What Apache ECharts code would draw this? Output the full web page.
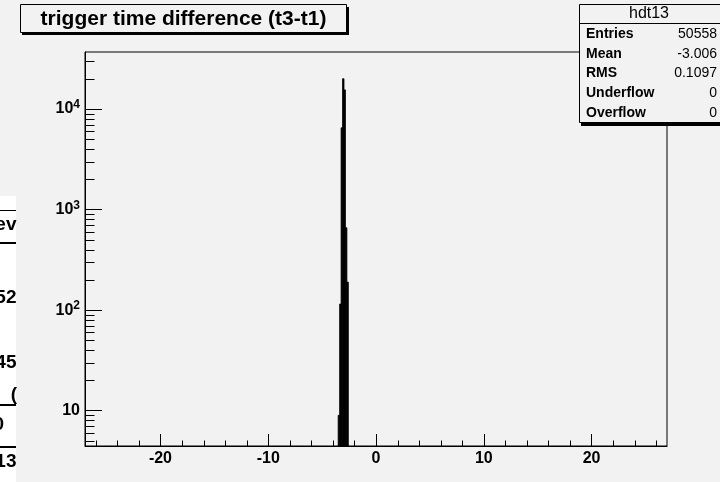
<!DOCTYPE html>
<html>
<head>
<meta charset="utf-8">
<script src="https://cdn.jsdelivr.net/npm/echarts@6/dist/echarts.min.js"></script>
<style>
  html, body { margin: 0; padding: 0; background: #f2f2f2; }
  #main { width: 720px; height: 482px; }
</style>
</head>
<body>
<div id="main"></div>
<script>
// hdt13: 400 bins on [-27, 27]; only the non-empty bins are listed
const binLow = [-3.51, -3.375, -3.24, -3.105, -2.97, -2.835, -2.70];
const binWidth = 0.135;
const counts = [9, 115, 6500, 20000, 15500, 660, 190];

const xRange = [-27, 27];
const yRange = [4.46, 36900];

const titleText = 'trigger time difference (t3-t1)';
const histName = 'hdt13';
const statLabels = ['Entries', 'Mean', 'RMS', 'Underflow', 'Overflow'];
const statValues = ['50558', '-3.006', '0.1097', '0', '0'];

// bits of the canvas window that sits behind, cut off at the left edge
const behindTexts = ['ev', '52', '45', '(', '0', '13'];

const FONT = '"Liberation Sans", Arial, Helvetica, sans-serif';
const BG = '#f2f2f2';

// minor ticks the ROOT way: every 2 on x, 2..9 x 10^k on the log y axis
const xMinor = [];
for (let v = -26; v <= 26; v += 2) {
    if (v % 10 !== 0) xMinor.push([v, yRange[0]]);
}
const yMinor = [];
for (let d = 0; d <= 4; d++) {
    for (let m = 2; m <= 9; m++) {
        const v = m * Math.pow(10, d);
        if (v > yRange[0] && v < yRange[1]) yMinor.push([xRange[0], v]);
    }
}

var dom = document.getElementById('main');
var myChart = echarts.init(dom, null, { renderer: 'canvas' });

// stats box texts
const statX = 579, statY = 4, rowH = 19.8;
const statGraphics = [];
statLabels.forEach(function (lab, i) {
    const y = 34 + i * rowH;
    statGraphics.push({
        type: 'text', x: 586, y: y, z: 101,
        style: { text: lab, font: 'bold 14px ' + FONT, fill: '#000', textVerticalAlign: 'middle' }
    });
    statGraphics.push({
        type: 'text', x: 717, y: y, z: 101,
        style: { text: statValues[i], font: '14px ' + FONT, fill: '#000', textAlign: 'right', textVerticalAlign: 'middle' }
    });
});

// the window behind (left strip)
const behindY = [225, 298, 363, 395, 425, 462];
const behindX = [16.5, 16.5, 16.5, 17, 4, 16.5];
const behindGraphics = [
    { type: 'rect', z: 1, shape: { x: 0, y: 196, width: 16, height: 290 }, style: { fill: '#fff' } },
    { type: 'rect', z: 2, shape: { x: 0, y: 210, width: 16, height: 1 }, style: { fill: '#000' } },
    { type: 'rect', z: 2, shape: { x: 0, y: 242, width: 16, height: 2 }, style: { fill: '#000' } },
    { type: 'rect', z: 2, shape: { x: 0, y: 404, width: 16, height: 2 }, style: { fill: '#000' } },
    { type: 'rect', z: 2, shape: { x: 0, y: 446, width: 16, height: 2 }, style: { fill: '#000' } }
];
behindTexts.forEach(function (t, i) {
    behindGraphics.push({
        type: 'text', z: 2, x: behindX[i], y: behindY[i],
        style: { text: t, font: 'bold 19px ' + FONT, fill: '#000', textAlign: 'right', textVerticalAlign: 'middle' }
    });
});

function tickSeries(data, horizontal, len) {
    return {
        type: 'custom',
        data: data,
        clip: false,
        silent: true,
        z: 5,
        renderItem: function (params, api) {
            const p = api.coord([api.value(0), api.value(1)]);
            const x = Math.round(p[0]) + 0.5, y = Math.round(p[1]) + 0.5;
            return {
                type: 'line',
                shape: horizontal ? { x1: x, y1: y, x2: x + len, y2: y } : { x1: x, y1: y, x2: x, y2: y - len },
                style: { stroke: '#000', lineWidth: 1 }
            };
        }
    };
}

var option = {
    animation: false,
    backgroundColor: BG,
    grid: {
        left: 85, right: 53, top: 52, bottom: 36,
        show: true, borderColor: '#000', borderWidth: 1, backgroundColor: 'transparent'
    },
    xAxis: {
        type: 'value',
        min: xRange[0], max: xRange[1],
        splitLine: { show: false },
        axisLine: { onZero: false, lineStyle: { color: '#000', width: 1 } },
        axisTick: { inside: true, length: 12, lineStyle: { color: '#000' } },
        axisLabel: {
            margin: 5, color: '#000', fontSize: 16, fontWeight: 'bold', fontFamily: FONT,
            showMinLabel: false, showMaxLabel: false
        }
    },
    yAxis: {
        type: 'log', logBase: 10,
        min: yRange[0], max: yRange[1],
        splitLine: { show: false },
        axisLine: { onZero: false, lineStyle: { color: '#000', width: 1 } },
        axisTick: { inside: true, length: 17, lineStyle: { color: '#000' } },
        axisLabel: {
            margin: 5,
            showMinLabel: false, showMaxLabel: false,
            formatter: function (v) {
                const e = Math.round(Math.log10(v));
                return e === 1 ? '{b|10}' : '{b|10}{s|' + e + '}';
            },
            rich: {
                b: { fontSize: 16, fontWeight: 'bold', fontFamily: FONT, color: '#000', lineHeight: 20 },
                s: { fontSize: 12, fontWeight: 'bold', fontFamily: FONT, color: '#000', verticalAlign: 'top', lineHeight: 12 }
            }
        }
    },
    series: [
        {
            type: 'custom',
            name: histName,
            data: binLow.map(function (x, i) { return [x, counts[i]]; }),
            clip: true,
            z: 3,
            renderItem: function (params, api) {
                const lo = api.value(0);
                const p0 = api.coord([lo, api.value(1)]);
                const p1 = api.coord([lo + binWidth, yRange[0]]);
                return {
                    type: 'rect',
                    shape: { x: p0[0], y: p0[1], width: p1[0] - p0[0], height: p1[1] - p0[1] },
                    style: { fill: '#000', stroke: '#000', lineWidth: 0.8 }
                };
            }
        },
        tickSeries(xMinor, false, 6),
        tickSeries(yMinor, true, 9)
    ],
    graphic: [
        // title box with shadow
        { type: 'rect', z: 99, shape: { x: 22, y: 7, width: 327, height: 28 }, style: { fill: '#000' } },
        { type: 'rect', z: 100, shape: { x: 20.5, y: 4.5, width: 326, height: 28 }, style: { fill: BG, stroke: '#000', lineWidth: 1 } },
        {
            type: 'text', z: 101, x: 183.5, y: 19,
            style: { text: titleText, font: 'bold 21px ' + FONT, fill: '#000', textAlign: 'center', textVerticalAlign: 'middle' }
        },
        // stats box with shadow
        { type: 'rect', z: 99, shape: { x: statX + 2, y: statY + 2, width: 160, height: 120 }, style: { fill: '#000' } },
        { type: 'rect', z: 100, shape: { x: statX + 0.5, y: statY + 0.5, width: 160, height: 118 }, style: { fill: BG, stroke: '#000', lineWidth: 1 } },
        { type: 'rect', z: 101, shape: { x: statX, y: 23, width: 160, height: 1 }, style: { fill: '#000' } },
        {
            type: 'text', z: 101, x: 649, y: 14,
            style: { text: histName, font: '16px ' + FONT, fill: '#000', textAlign: 'center', textVerticalAlign: 'middle' }
        }
    ].concat(statGraphics, behindGraphics)
};

myChart.setOption(option);
window.addEventListener('resize', myChart.resize);
</script>
</body>
</html>
